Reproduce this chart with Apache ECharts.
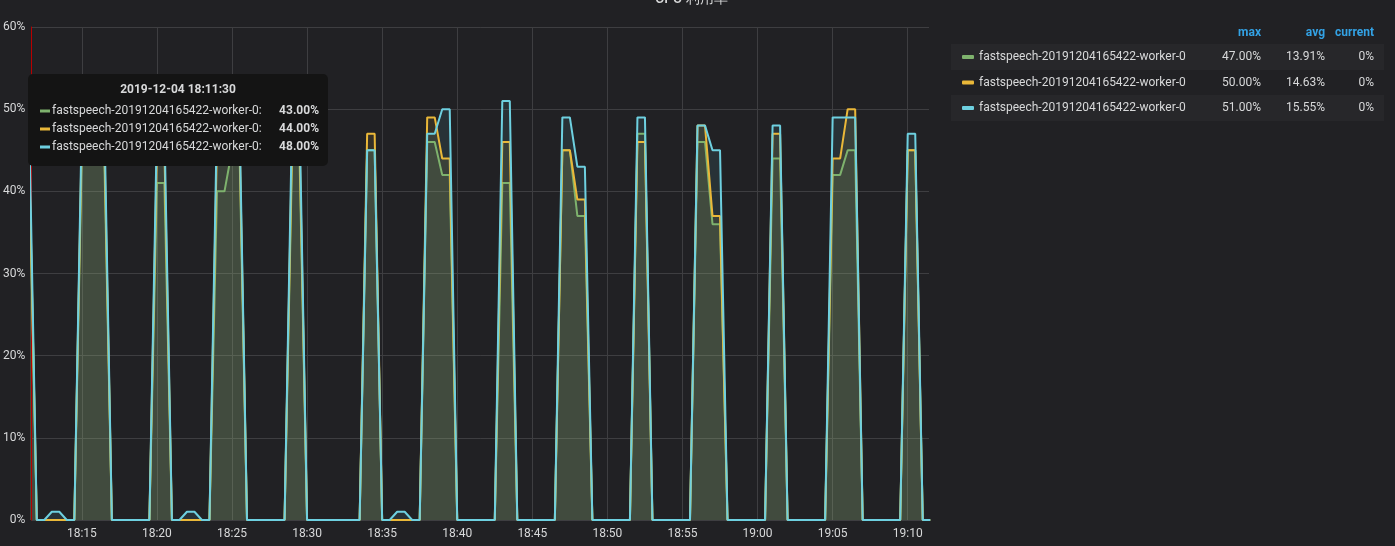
<!DOCTYPE html>
<html>

<head>
    <meta charset="utf-8" />
    <title>CPU 利用率</title>
    <script src="https://cdn.jsdelivr.net/npm/echarts@6/dist/echarts.min.js"></script>
    <style>
        html, body { margin: 0; padding: 0; background: #212124; }
    </style>
</head>

<body>
    <div id="main" style="width:1395px;height:546px;"></div>
    <script type="text/javascript">
        // x 轴单位: 2019-12-04 18:00 之后的分钟数, 每 30 秒一个点
        var dateText = '2019-12-04'
        var baseHour = 18
        var firstMinute = 11.5
        var stepMinute = 0.5
        var axisMin = 11 + 38 / 60
        var axisMax = 71 + 25 / 60
        var hoverIndex = 0

        var seriesIds = ['w0_a', 'w0_b', 'w0_c']
        var seriesLabels = ['fastspeech-20191204165422-worker-0', 'fastspeech-20191204165422-worker-0', 'fastspeech-20191204165422-worker-0']
        var seriesColors = ['#7eb26d', '#eab839', '#6ed0e0']

        var greenVals = [
            43, 0, 0, 0, 0, 0, 0, 45, 45, 44,
            44, 0, 0, 0, 0, 0, 0, 41, 41, 0,
            0, 0, 0, 0, 0, 40, 40, 45, 45, 0,
            0, 0, 0, 0, 0, 44, 44, 0, 0, 0,
            0, 0, 0, 0, 0, 45, 45, 0, 0, 0,
            0, 0, 0, 46, 46, 42, 42, 0, 0, 0,
            0, 0, 0, 41, 41, 0, 0, 0, 0, 0,
            0, 45, 45, 37, 37, 0, 0, 0, 0, 0,
            0, 47, 47, 0, 0, 0, 0, 0, 0, 46,
            46, 36, 36, 0, 0, 0, 0, 0, 0, 44,
            44, 0, 0, 0, 0, 0, 0, 42, 42, 45,
            45, 0, 0, 0, 0, 0, 0, 45, 45, 0,
            0
        ]
        var yellowVals = [
            44, 0, 0, 0, 0, 0, 0, 47, 47, 46,
            46, 0, 0, 0, 0, 0, 0, 45, 45, 0,
            0, 0, 0, 0, 0, 46, 46, 47, 47, 0,
            0, 0, 0, 0, 0, 46, 46, 0, 0, 0,
            0, 0, 0, 0, 0, 47, 47, 0, 0, 0,
            0, 0, 0, 49, 49, 44, 44, 0, 0, 0,
            0, 0, 0, 46, 46, 0, 0, 0, 0, 0,
            0, 45, 45, 39, 39, 0, 0, 0, 0, 0,
            0, 46, 46, 0, 0, 0, 0, 0, 0, 48,
            48, 37, 37, 0, 0, 0, 0, 0, 0, 47,
            47, 0, 0, 0, 0, 0, 0, 44, 44, 50,
            50, 0, 0, 0, 0, 0, 0, 45, 45, 0,
            0
        ]
        var cyanVals = [
            48, 0, 0, 1, 1, 0, 0, 49, 49, 50,
            49, 0, 0, 0, 0, 0, 0, 48, 48, 0,
            0, 1, 1, 0, 0, 49, 49, 49, 49, 0,
            0, 0, 0, 0, 0, 49, 49, 0, 0, 0,
            0, 0, 0, 0, 0, 45, 45, 0, 0, 1,
            1, 0, 0, 47, 47, 50, 50, 0, 0, 0,
            0, 0, 0, 51, 51, 0, 0, 0, 0, 0,
            0, 49, 49, 43, 43, 0, 0, 0, 0, 0,
            0, 49, 49, 0, 0, 0, 0, 0, 0, 48,
            48, 45, 45, 0, 0, 0, 0, 0, 0, 48,
            48, 0, 0, 0, 0, 0, 0, 49, 49, 49,
            49, 0, 0, 0, 0, 0, 0, 47, 47, 0,
            0
        ]

        var maxText = ['47.00%', '50.00%', '51.00%']
        var avgText = ['13.91%', '14.63%', '15.55%']
        var currentText = ['0%', '0%', '0%']
        var legendHeaders = ['max', 'avg', 'current']

        var textColor = '#d8d9da'
        var gridColor = '#3e3e41'
        var allVals = [greenVals, yellowVals, cyanVals]

        function pad2(n) {
            return n < 10 ? '0' + n : '' + n
        }
        // 分钟数 -> HH:mm(:ss)
        function clock(minVal, withSec) {
            var secs = Math.round((baseHour * 60 + minVal) * 60)
            var h = Math.floor(secs / 3600)
            var m = Math.floor(secs / 60) % 60
            var s = secs % 60
            return pad2(h) + ':' + pad2(m) + (withSec ? ':' + pad2(s) : '')
        }

        function toPairs(vals) {
            var out = []
            for (var i = 0; i < vals.length; i++) {
                out.push([firstMinute + i * stepMinute, vals[i]])
            }
            return out
        }

        var seriesList = []
        for (var k = 0; k < 3; k++) {
            seriesList.push({
                name: seriesIds[k],
                type: 'line',
                data: toPairs(allVals[k]),
                showSymbol: false,
                symbol: 'none',
                lineStyle: { width: 2, color: seriesColors[k] },
                itemStyle: { color: seriesColors[k] },
                areaStyle: { color: seriesColors[k], opacity: 0.1 },
                emphasis: { disabled: true }
            })
        }

        // 悬停提示框 (固定在 18:11:30)
        var tipX = 28, tipY = 74, tipW = 300, tipH = 92, tipZ = 100
        var tipChildren = [
            { type: 'rect', z: tipZ, shape: { x: 0, y: 0, width: tipW, height: tipH, r: 5 }, style: { fill: '#141414' } },
            {
                type: 'text', z: tipZ + 1, x: tipW / 2, y: 16,
                style: { text: dateText + ' ' + clock(firstMinute + hoverIndex * stepMinute, true), fill: textColor, font: 'bold 12px Roboto', align: 'center', verticalAlign: 'middle' }
            }
        ]
        for (var r = 0; r < 3; r++) {
            var cy = 37 + r * 18
            tipChildren.push({ type: 'rect', z: tipZ + 1, shape: { x: 12, y: cy - 1.5, width: 10, height: 3 }, style: { fill: seriesColors[r] } })
            tipChildren.push({
                type: 'text', z: tipZ + 1, x: 24, y: cy,
                style: { text: seriesLabels[r] + ':', fill: textColor, font: '12px Roboto', verticalAlign: 'middle' }
            })
            tipChildren.push({
                type: 'text', z: tipZ + 1, x: 291, y: cy,
                style: { text: allVals[r][hoverIndex].toFixed(2) + '%', fill: textColor, font: 'bold 12px Roboto', align: 'right', verticalAlign: 'middle' }
            })
        }

        var myChart = echarts.init(document.getElementById('main'))
        var option = {
            backgroundColor: '#212124',
            animation: false,
            textStyle: { fontFamily: 'Roboto' },
            title: {
                text: 'CPU 利用率',
                left: 650,
                top: -13,
                textStyle: { color: textColor, fontSize: 14, fontWeight: 500 }
            },
            grid: { left: 28, right: 466, top: 27, bottom: 26 },
            legend: {
                orient: 'vertical',
                left: 962,
                top: 51,
                padding: 0,
                icon: 'roundRect',
                itemWidth: 12,
                itemHeight: 4,
                itemGap: 13.5,
                selectedMode: false,
                data: seriesIds,
                formatter: function (name) {
                    var i = seriesIds.indexOf(name)
                    return '{n|' + seriesLabels[i] + '}{m|' + maxText[i] + '}{a|' + avgText[i] + '}{c|' + currentText[i] + '}'
                },
                textStyle: {
                    color: textColor,
                    fontSize: 12,
                    rich: {
                        n: { width: 221, fontSize: 12, color: textColor },
                        m: { width: 61, align: 'right', fontSize: 12, color: textColor },
                        a: { width: 64, align: 'right', fontSize: 12, color: textColor },
                        c: { width: 49, align: 'right', fontSize: 12, color: textColor }
                    }
                }
            },
            graphic: [
                { type: 'rect', z: -10, shape: { x: 951, y: 44, width: 433, height: 26 }, style: { fill: '#27272a' } },
                { type: 'rect', z: -10, shape: { x: 951, y: 95, width: 433, height: 26 }, style: { fill: '#27272a' } },
                { type: 'text', x: 1261, y: 33, style: { text: legendHeaders[0], fill: '#33a2e5', font: 'bold 12px Roboto', align: 'right', verticalAlign: 'middle' } },
                { type: 'text', x: 1325, y: 33, style: { text: legendHeaders[1], fill: '#33a2e5', font: 'bold 12px Roboto', align: 'right', verticalAlign: 'middle' } },
                { type: 'text', x: 1374, y: 33, style: { text: legendHeaders[2], fill: '#33a2e5', font: 'bold 12px Roboto', align: 'right', verticalAlign: 'middle' } },
                { type: 'group', x: tipX, y: tipY, z: tipZ, children: tipChildren }
            ],
            xAxis: {
                type: 'value',
                min: axisMin,
                max: axisMax,
                splitNumber: 12,
                minInterval: 5,
                maxInterval: 5,
                axisLine: { show: false },
                axisTick: { show: false },
                axisLabel: {
                    color: textColor,
                    fontSize: 12,
                    margin: 8,
                    showMinLabel: false,
                    showMaxLabel: false,
                    formatter: function (v) { return clock(v, false) }
                },
                splitLine: { show: true, showMinLine: false, showMaxLine: false, lineStyle: { color: gridColor, width: 1 } }
            },
            yAxis: {
                type: 'value',
                min: 0,
                max: 60,
                interval: 10,
                z: 3,
                // 悬停位置的红色竖线正好在左边缘
                axisLine: { show: true, lineStyle: { color: '#b80000', width: 1 } },
                axisTick: { show: false },
                axisLabel: { color: textColor, fontSize: 12, margin: 6, formatter: '{value}%' },
                splitLine: { show: true, lineStyle: { color: gridColor, width: 1 } }
            },
            series: seriesList
        }
        myChart.setOption(option)
    </script>
</body>

</html>
